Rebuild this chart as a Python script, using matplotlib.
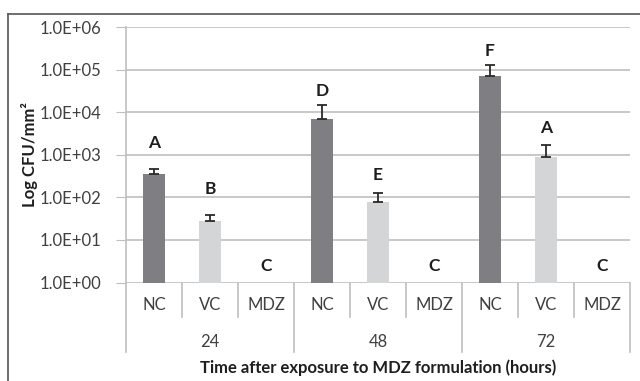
import numpy as np
import matplotlib.pyplot as plt
from matplotlib.lines import Line2D
from matplotlib.transforms import blended_transform_factory

plt.rcParams['font.family'] = ['Lato', 'DejaVu Sans']

# dati
ore = ['24', '48', '72']
trattamenti = ['NC', 'VC', 'MDZ']
valori = [355, 27.7, 0, 6950, 79, 0, 72600, 875, 0]
errori = [102, 11.3, 0, 7850, 49, 0, 56400, 825, 0]
lettere = ['A', 'B', 'C', 'D', 'E', 'C', 'F', 'A', 'C']
lettere_y = [1860, 155, 2.4, 31700, 340, 2.4, 282000, 4200, 2.4]

colori = {'NC': '#7f7f83', 'VC': '#d4d5d7', 'MDZ': '#d4d5d7'}
grigio = '#bfbfbf'

fig = plt.figure(figsize=(6.4, 3.81), dpi=100)
ax = fig.add_axes([126/640, 1 - 282.5/381, 504/640, (282.5 - 27.3)/381])

x = np.arange(len(valori))
etichette = [t for h in ore for t in trattamenti]
for i in x:
    if valori[i] > 0:
        ax.bar(i, valori[i], width=0.39, color=colori[etichette[i]], zorder=3)
        ax.errorbar(i, valori[i], yerr=[[0], [errori[i]]], fmt='none',
                    ecolor='#2a2a2a', elinewidth=1.3, capsize=3.5, capthick=1.3, zorder=4)
    ax.text(i, lettere_y[i], lettere[i], ha='center', va='center',
            fontsize=12.5, fontweight='bold', color='#1e1e1e')

ax.set_yscale('log')
ax.set_ylim(1, 1e6)
ax.set_xlim(-0.5, len(valori) - 0.5)
ax.set_yticks([10.0**k for k in range(7)])
ax.set_yticklabels(['1.0E+%02d' % k for k in range(7)])
ax.yaxis.set_minor_locator(plt.NullLocator())
ax.tick_params(axis='y', length=7, color=grigio, labelsize=12, labelcolor='#404040', pad=11)
ax.set_xticks([])
ax.grid(axis='y', color=grigio, linewidth=1.2, zorder=0)
for s in ['top', 'right', 'bottom']:
    ax.spines[s].set_visible(False)
ax.spines['left'].set_color(grigio)
ax.spines['left'].set_linewidth(1.2)
ax.spines['left'].set_zorder(5)

# asse x a due livelli
tr = blended_transform_factory(ax.transData, ax.transAxes)
for k in range(len(valori) + 1):
    xb = k - 0.5
    y_fine = -0.271 if k % 3 == 0 else -0.135
    ax.add_line(Line2D([xb, xb], [0, y_fine], transform=tr, color=grigio,
                       linewidth=1.2, clip_on=False))
for i in x:
    ax.text(i, -0.088, etichette[i], transform=tr, ha='center', va='center',
            fontsize=12, color='#404040')
for g, h in enumerate(ore):
    ax.text(g * 3 + 1, -0.232, h, transform=tr, ha='center', va='center',
            fontsize=12, color='#404040')
ax.text(0.5, -0.335, 'Time after exposure to MDZ formulation (hours)',
        transform=ax.transAxes, ha='center', va='center', fontsize=12,
        fontweight='bold', color='#1e1e1e')
fig.text(30/640, 1 - 155/381, 'Log CFU/mm²', rotation=90, ha='center',
         va='center', fontsize=12, fontweight='bold', color='#1e1e1e')

# cornice esterna
fig.add_artist(Line2D([8/640, 8/640], [0, 1 - 14/381], color='#555555', linewidth=1.2))
fig.add_artist(Line2D([8/640, 1], [1 - 14/381, 1 - 14/381], color='#555555', linewidth=1.2))

fig.savefig('out.png', dpi=100)
